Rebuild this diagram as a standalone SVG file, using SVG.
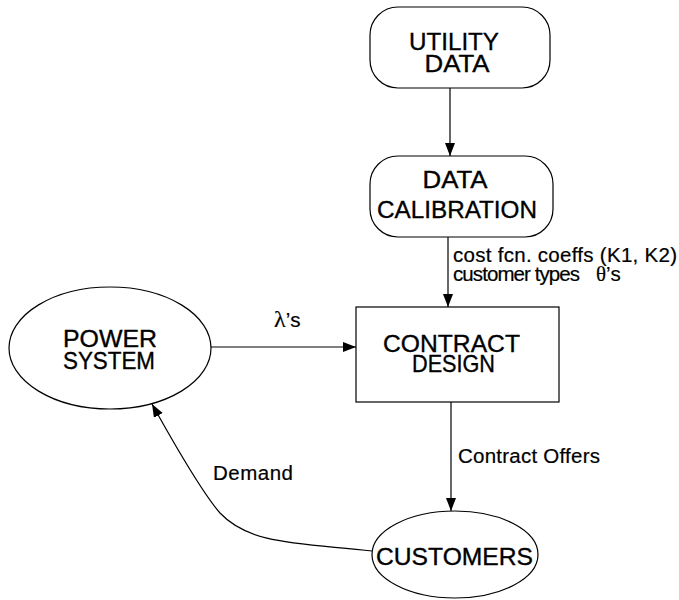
<svg xmlns="http://www.w3.org/2000/svg" width="679" height="600" viewBox="0 0 679 600">
  <style>
    .shape { fill: #ffffff; stroke: #000000; stroke-width: 1.2; }
    .edge { fill: none; stroke: #000000; stroke-width: 1.2; }
    .node-text { font-family: "Liberation Sans", Arial, Helvetica, sans-serif; font-size: 24px; fill: #000000; stroke: #000000; stroke-width: 0.35; text-anchor: middle; }
    .label { font-family: "Liberation Sans", Arial, Helvetica, sans-serif; font-size: 20.5px; fill: #000000; stroke: #000000; stroke-width: 0.2; }
    .greek { font-family: "Liberation Serif", "DejaVu Serif", serif; }
  </style>
  <defs>
    <marker id="arrow" markerUnits="userSpaceOnUse" markerWidth="14" markerHeight="12" refX="13" refY="5" orient="auto">
      <path d="M0,0 L13,5 L0,10 Z" fill="#000000"/>
    </marker>
  </defs>
  <rect width="679" height="600" fill="#ffffff"/>

  <!-- connectors and their labels -->
  <g id="connectors">
    <line class="edge" x1="450" y1="88" x2="450" y2="156" marker-end="url(#arrow)"/>
    <line class="edge" x1="448" y1="237" x2="448" y2="307" marker-end="url(#arrow)"/>
    <line class="edge" x1="210" y1="347" x2="356" y2="347" marker-end="url(#arrow)"/>
    <line class="edge" x1="451" y1="402" x2="451" y2="511" marker-end="url(#arrow)"/>
    <path class="edge" d="M 372 551 C 300 543 250 545 220 513 C 200 490 172 440 152 404" marker-end="url(#arrow)"/>
    <text class="label" x="453" y="262" textLength="224" lengthAdjust="spacing">cost fcn. coeffs (K1, K2)</text>
    <text class="label" x="453" y="281" font-size="19" textLength="127" lengthAdjust="spacing">customer types</text>
    <text class="label" x="596" y="281"><tspan class="greek" font-size="21">θ</tspan>’s</text>
    <text class="label" x="274" y="327"><tspan class="greek" font-size="24">λ</tspan>’s</text>
    <text class="label" x="458" y="463" textLength="142" lengthAdjust="spacing">Contract Offers</text>
    <text class="label" x="213" y="480" textLength="80" lengthAdjust="spacing">Demand</text>
  </g>

  <g id="utility-data">
    <rect class="shape" x="370" y="7" width="180" height="81" rx="28" ry="28"/>
    <text class="node-text" x="454" y="50" textLength="90" lengthAdjust="spacingAndGlyphs">UTILITY</text>
    <text class="node-text" x="457" y="72" textLength="65" lengthAdjust="spacingAndGlyphs">DATA</text>
  </g>

  <g id="data-calibration">
    <rect class="shape" x="370" y="156" width="183" height="81" rx="28" ry="28"/>
    <text class="node-text" x="455" y="188" textLength="65" lengthAdjust="spacingAndGlyphs">DATA</text>
    <text class="node-text" x="457" y="218" textLength="160" lengthAdjust="spacingAndGlyphs">CALIBRATION</text>
  </g>

  <g id="contract-design">
    <rect class="shape" x="356" y="307" width="203" height="95"/>
    <text class="node-text" x="451.5" y="352" textLength="137" lengthAdjust="spacingAndGlyphs">CONTRACT</text>
    <text class="node-text" x="453.5" y="372" textLength="83" lengthAdjust="spacingAndGlyphs">DESIGN</text>
  </g>

  <g id="power-system">
    <ellipse class="shape" cx="110" cy="348" rx="101" ry="61"/>
    <text class="node-text" x="110" y="347" textLength="94" lengthAdjust="spacingAndGlyphs">POWER</text>
    <text class="node-text" x="109" y="369" textLength="92" lengthAdjust="spacingAndGlyphs">SYSTEM</text>
  </g>

  <g id="customers">
    <ellipse class="shape" cx="455" cy="554.5" rx="83" ry="43.5"/>
    <text class="node-text" x="454.5" y="565" textLength="157" lengthAdjust="spacingAndGlyphs">CUSTOMERS</text>
  </g>
</svg>
